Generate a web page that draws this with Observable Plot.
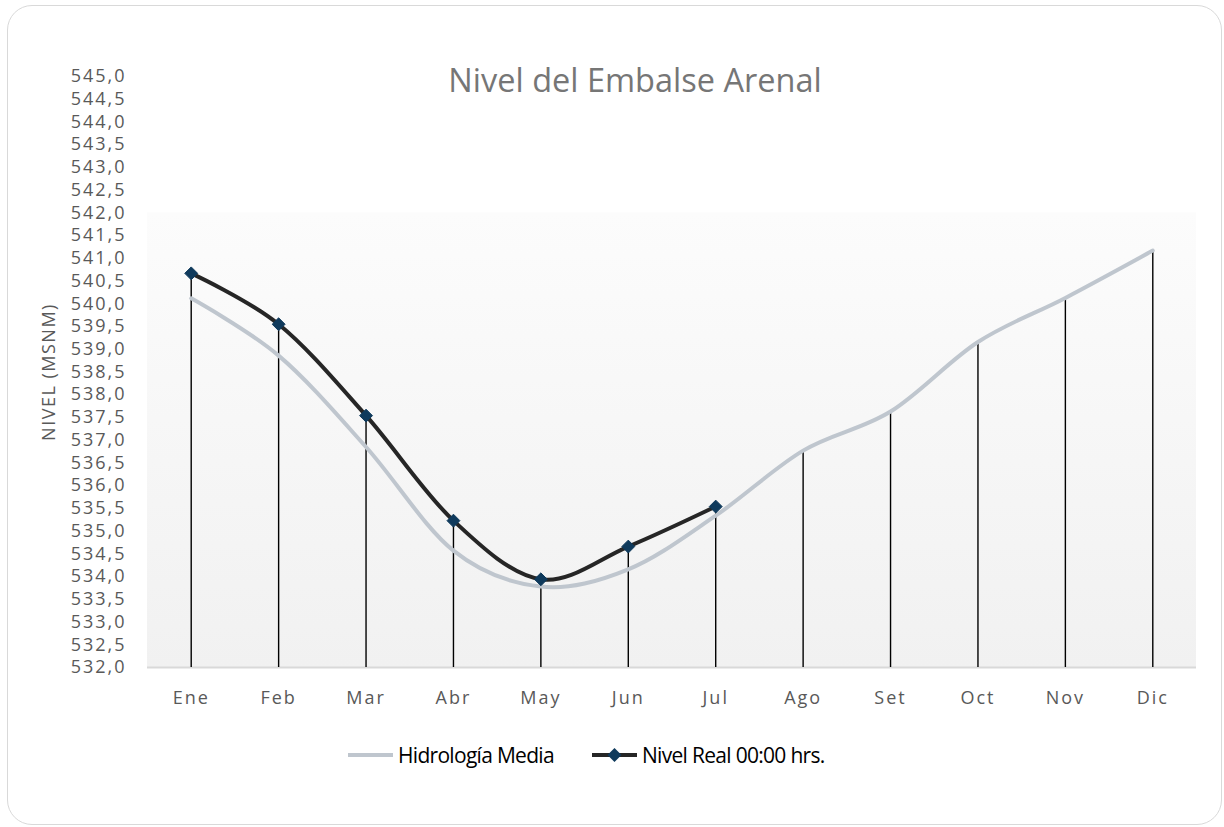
<!DOCTYPE html>
<html>
<head>
<meta charset="utf-8">
<script src="https://cdn.jsdelivr.net/npm/d3@7"></script>
<script src="https://cdn.jsdelivr.net/npm/@observablehq/plot@0.6"></script>
<style>
  html, body { margin: 0; padding: 0; background: #ffffff; }
  #wrap { position: relative; width: 1224px; height: 827px; overflow: hidden; font-family: "Open Sans", sans-serif; }
  #frame { position: absolute; left: 7px; top: 5px; width: 1215px; height: 820px; box-sizing: border-box;
           border: 1.5px solid #D9D9D9; border-radius: 25px; background: #fff; }
  #chart { position: absolute; left: 0; top: 0; }
  #chart svg [aria-label="y-axis tick label"] text,
  #chart svg [aria-label="x-axis tick label"] text { letter-spacing: 2px; }
  #title { position: absolute; left: 0; width: 1270px; top: 64px; text-align: center; font-size: 32.5px;
           line-height: 32px; color: #767676; }
  #ylabel { position: absolute; left: 48px; top: 371.5px; transform: translate(-50%, -50%) rotate(-90deg);
            font-size: 18px; letter-spacing: 1.5px; color: #595959; white-space: nowrap; line-height: 18px; }
  .leg { position: absolute; top: 743px; height: 24px; display: flex; align-items: center; font-size: 21px;
         letter-spacing: -0.7px; color: #000; white-space: nowrap; }
  .leg svg { display: block; margin-right: 5px; }
</style>
</head>
<body>
<svg width="0" height="0" style="position:absolute">
  <defs>
    <linearGradient id="bg" x1="0" y1="0" x2="0" y2="1">
      <stop offset="0" stop-color="#FCFCFC"/>
      <stop offset="1" stop-color="#F1F1F1"/>
    </linearGradient>
  </defs>
</svg>
<div id="wrap">
  <div id="frame"></div>
  <div id="chart"></div>
  <div id="title">Nivel del Embalse Arenal</div>
  <div id="ylabel">NIVEL (MSNM)</div>
  <div class="leg" id="leg1"></div>
  <div class="leg" id="leg2"></div>
</div>
<script>
const months = ["Ene","Feb","Mar","Abr","May","Jun","Jul","Ago","Set","Oct","Nov","Dic"];
const hidrologiaMedia = [540.12, 538.86, 536.85, 534.57, 533.78, 534.16, 535.34, 536.77, 537.63, 539.16, 540.13, 541.17];
const nivelReal = [540.67, 539.55, 537.54, 535.23, 533.94, 534.66, 535.54];
const yTicks = d3.range(532, 545.001, 0.5);
const seriesNames = ["Hidrología Media", "Nivel Real 00:00 hrs."];

const colMedia = "#BFC6CE";
const colReal = "#262626";
const colMarker = "#0F3A5C";

const mediaData = months.map((m, i) => ({i, m, v: hidrologiaMedia[i]}));
const realData = nivelReal.map((v, i) => ({i, m: months[i], v}));
const dropData = months.map((m, i) => ({i, top: Math.max(hidrologiaMedia[i], nivelReal[i] ?? -Infinity)}));

const fmt = d => d.toFixed(1).replace(".", ",");

const chart = Plot.plot({
  width: 1224,
  height: 720,
  marginLeft: 147,
  marginRight: 28,
  marginTop: 76,
  marginBottom: 53,
  style: {fontFamily: "'Open Sans', sans-serif", fontSize: "18px", color: "#595959", background: "transparent", overflow: "visible"},
  x: {type: "linear", domain: [-0.5, 11.5], axis: null},
  y: {domain: [532, 545], axis: null},
  marks: [
    Plot.rect([0], {x1: -0.5, x2: 11.5, y1: 532, y2: 542, fill: "url(#bg)"}),
    Plot.ruleY([532], {stroke: "#D9D9D9", strokeWidth: 2}),
    Plot.ruleX(dropData, {x: "i", y1: 532, y2: "top", stroke: "#000", strokeWidth: 1.4}),
    Plot.line(mediaData, {x: "i", y: "v", curve: "cardinal", tension: 0, stroke: colMedia, strokeWidth: 4}),
    Plot.line(realData, {x: "i", y: "v", curve: "cardinal", tension: 0, stroke: colReal, strokeWidth: 4}),
    Plot.dot(realData, {x: "i", y: "v", symbol: "diamond2", r: 5.8, fill: colMarker, stroke: colMarker, strokeWidth: 1}),
    Plot.axisX({ticks: d3.range(months.length), tickFormat: i => months[i], tickSize: 0, tickPadding: 24, fontSize: 18, label: null}),
    Plot.axisY({ticks: yTicks, tickFormat: fmt, tickSize: 0, tickPadding: 21, fontSize: 18, label: null})
  ]
});
document.getElementById("chart").append(chart);

// Legend
function legItem(el, name, withMarker, color) {
  const s = d3.create("svg").attr("width", 45).attr("height", 16);
  s.append("line").attr("x1", 0).attr("x2", 45).attr("y1", 8).attr("y2", 8)
    .attr("stroke", color).attr("stroke-width", 4);
  if (withMarker) {
    s.append("path").attr("d", "M22.5,1L29.5,8L22.5,15L15.5,8Z").attr("fill", colMarker);
  }
  el.append(s.node());
  const t = document.createElement("span");
  t.textContent = name;
  el.append(t);
}
const l1 = document.getElementById("leg1"); l1.style.left = "348px";
const l2 = document.getElementById("leg2"); l2.style.left = "592px";
legItem(l1, seriesNames[0], false, colMedia);
legItem(l2, seriesNames[1], true, colReal);
</script>
</body>
</html>
